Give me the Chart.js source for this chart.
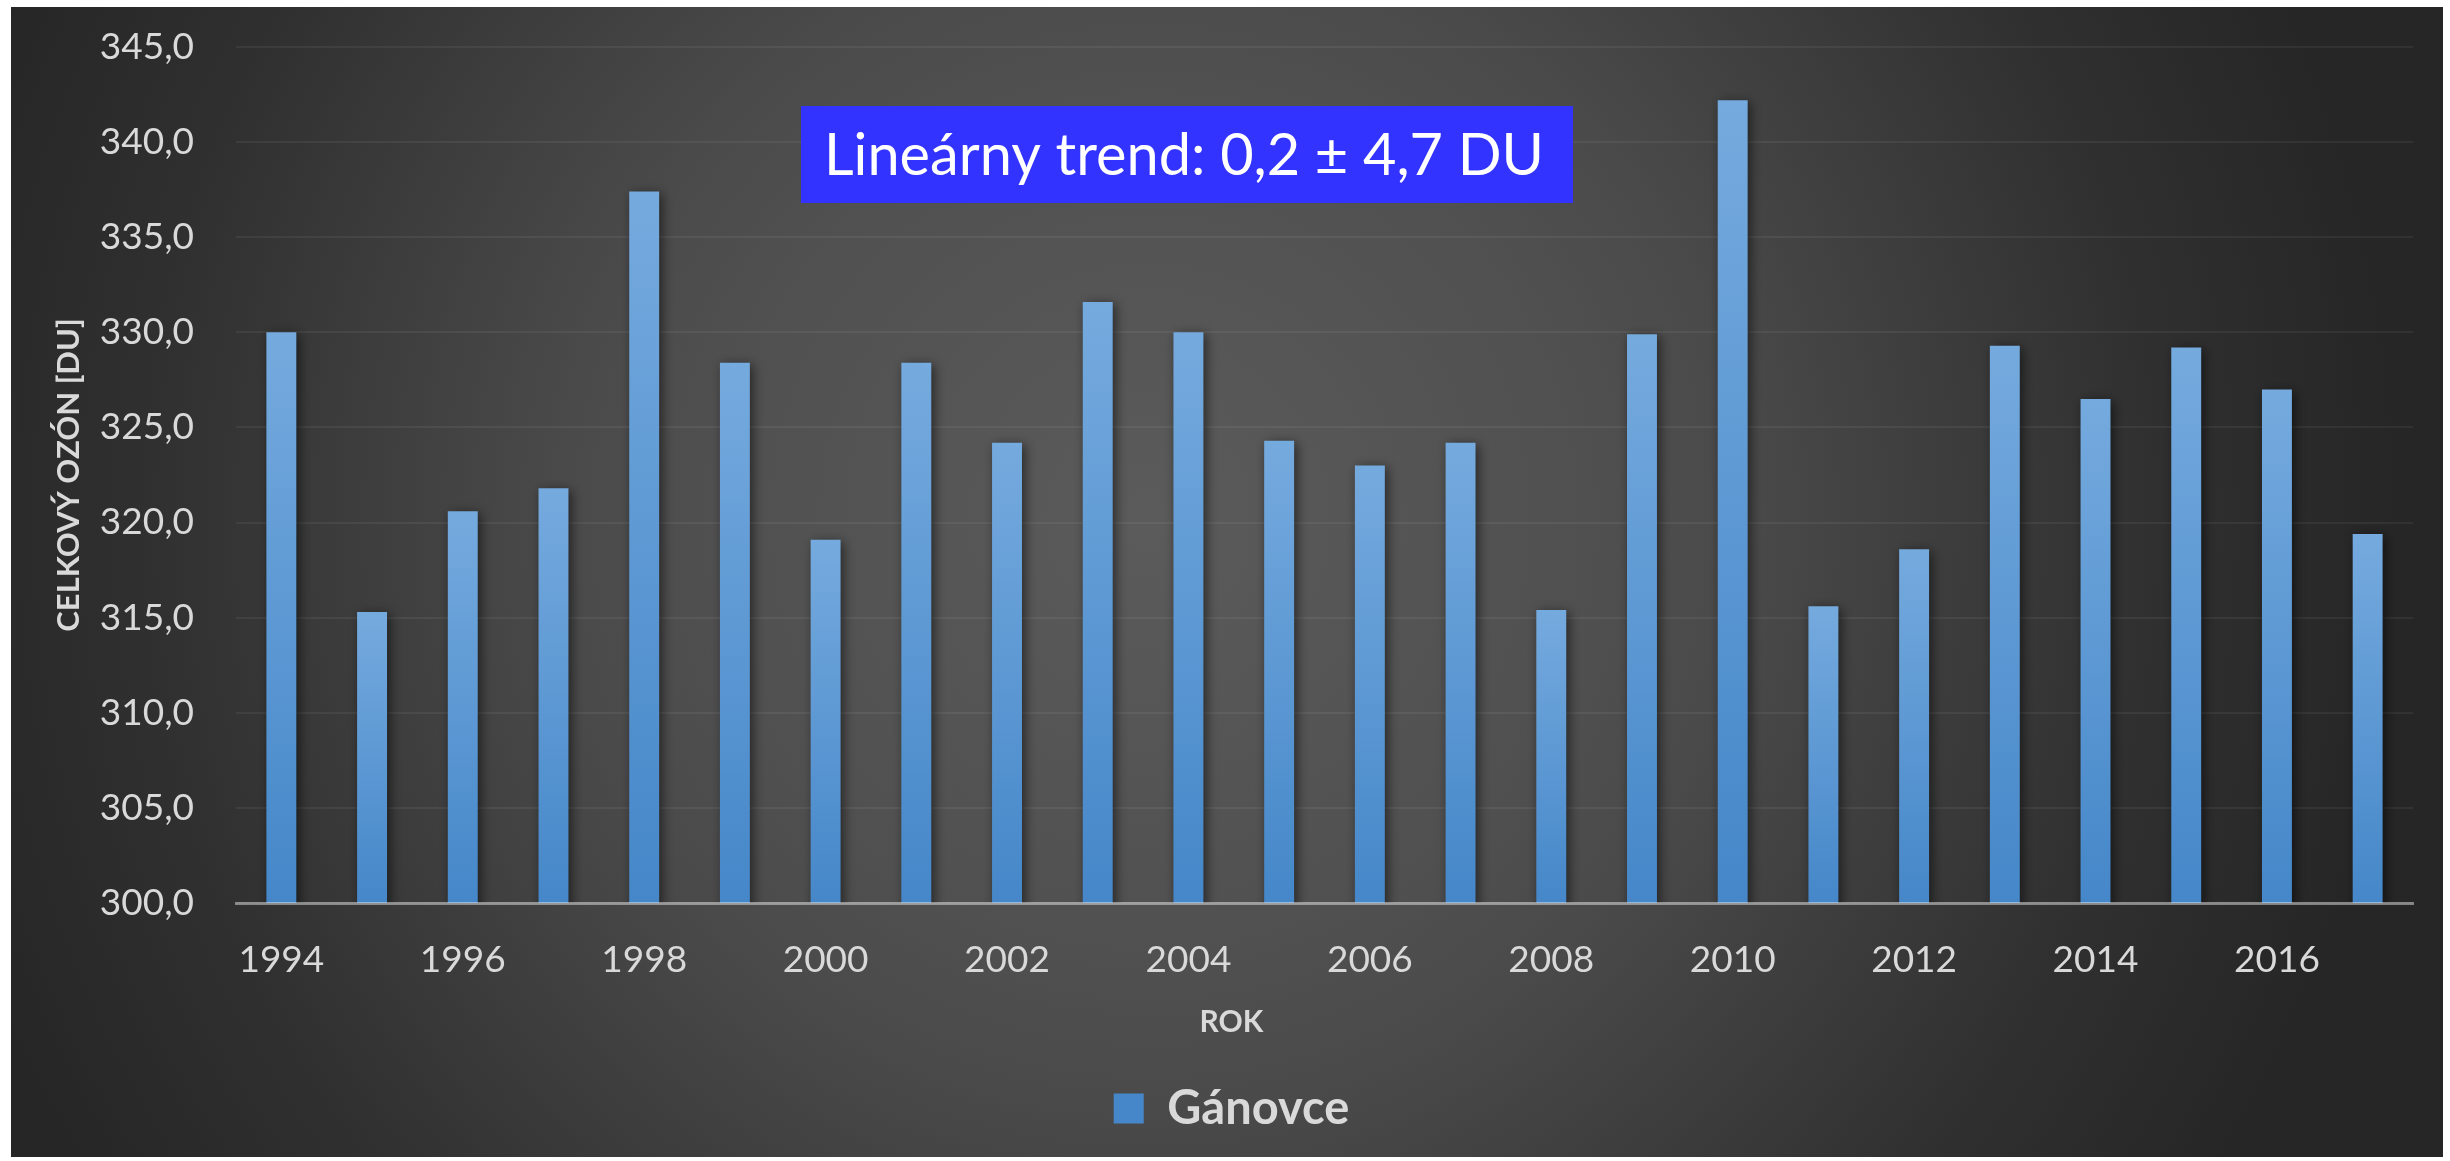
<!DOCTYPE html>
<html>
<head>
<meta charset="utf-8">
<script src="https://cdn.jsdelivr.net/npm/chart.js@4.4.1/dist/chart.umd.min.js"></script>
<style>
  html, body { margin: 0; padding: 0; background: #ffffff; }
  canvas { display: block; }
</style>
</head>
<body>
<canvas id="c" width="2450" height="1161"></canvas>
<script>
// ---- data ----
const years = ['1994','1995','1996','1997','1998','1999','2000','2001','2002','2003','2004','2005',
               '2006','2007','2008','2009','2010','2011','2012','2013','2014','2015','2016','2017'];
const ozoneGanovce = [330.0, 315.3, 320.6, 321.8, 337.4, 328.4, 319.1, 328.4, 324.2, 331.6, 330.0, 324.3,
                      323.0, 324.2, 315.4, 329.9, 342.2, 315.6, 318.6, 329.3, 326.5, 329.2, 327.0, 319.4];
const seriesName = 'Gánovce';
const yMin = 300, yMax = 345, yStep = 5;
const yTitle = 'CELKOVÝ OZÓN [DU]';
const xTitle = 'ROK';
const trendText = 'Lineárny trend: 0,2 ± 4,7 DU';

const FONT = 'Lato, "Open Sans", sans-serif';
const TEXT_COLOR = '#d9d9d9';

const bgPlugin = {
  id: 'bgPlugin',
  beforeDraw(chart) {
    const c = chart.ctx;
    c.save();
    c.fillStyle = '#ffffff';
    c.fillRect(0, 0, chart.width, chart.height);
    const x0 = 11, y0 = 7, x1 = chart.width - 7, y1 = chart.height - 4;
    const g = c.createRadialGradient(1150, 520, 0, 1150, 520, 1250);
    g.addColorStop(0, '#5b5b5b');
    g.addColorStop(0.35, '#505050');
    g.addColorStop(0.47, '#4a4a4a');
    g.addColorStop(0.8, '#303030');
    g.addColorStop(1, '#262626');
    c.fillStyle = g;
    c.fillRect(x0, y0, x1 - x0, y1 - y0);
    c.restore();
  }
};

const shadowPlugin = {
  id: 'shadowPlugin',
  beforeDatasetsDraw(chart) {
    const c = chart.ctx;
    c.save();
    c.shadowColor = 'rgba(0,0,0,0.55)';
    c.shadowBlur = 12;
    c.shadowOffsetX = 3;
    c.shadowOffsetY = 2;
  },
  afterDatasetsDraw(chart) {
    chart.ctx.restore();
  }
};

const textPlugin = {
  id: 'textPlugin',
  afterDraw(chart) {
    const c = chart.ctx;
    // x axis title, centred under the legend
    const lg = chart.legend;
    c.save();
    c.fillStyle = TEXT_COLOR;
    c.font = 'bold 30px ' + FONT;
    c.textAlign = 'center';
    c.textBaseline = 'middle';
    c.fillText(xTitle, (lg.left + lg.right) / 2, 1022);
    c.restore();

    // trend annotation box
    const bx = 801, by = 106, bw = 772, bh = 97;
    c.save();
    c.fillStyle = '#3333ff';
    c.fillRect(bx, by, bw, bh);
    c.font = '58px ' + FONT;
    const w = c.measureText(trendText).width;
    const targetW = 720;
    const s = targetW / w;
    c.translate(bx + 23, 175);
    c.scale(s, 1);
    c.fillStyle = '#ffffff';
    c.textAlign = 'left';
    c.textBaseline = 'alphabetic';
    c.fillText(trendText, 0, 0);
    c.restore();
  }
};

function barGradient(ctx) {
  const chart = ctx.chart;
  if (ctx.type !== 'data' || !chart.chartArea || !chart.scales.y) return '#5b9bd5';
  const y = chart.scales.y;
  const top = y.getPixelForValue(ctx.raw);
  const bottom = y.getPixelForValue(y.min);
  const g = chart.ctx.createLinearGradient(0, top, 0, bottom);
  g.addColorStop(0, '#75aade');
  g.addColorStop(1, '#4587c9');
  return g;
}

new Chart(document.getElementById('c'), {
  type: 'bar',
  data: {
    labels: years,
    datasets: [{
      label: seriesName,
      data: ozoneGanovce,
      backgroundColor: barGradient,
      borderWidth: 0,
      barPercentage: 0.33,
      categoryPercentage: 1.0
    }]
  },
  plugins: [bgPlugin, shadowPlugin, textPlugin],
  options: {
    responsive: false,
    devicePixelRatio: 1,
    animation: false,
    layout: { padding: { left: 50, right: 37, top: 47, bottom: 19 } },
    plugins: {
      tooltip: { enabled: false },
      legend: {
        position: 'bottom',
        labels: {
          color: TEXT_COLOR,
          font: { family: FONT, size: 47, weight: 'bold' },
          boxWidth: 30,
          boxHeight: 30,
          padding: 20
        }
      }
    },
    scales: {
      x: {
        grid: { display: false, drawTicks: false },
        border: { display: true, color: 'rgba(255,255,255,0.42)', width: 3, z: 1 },
        ticks: {
          color: TEXT_COLOR,
          font: { family: FONT, size: 37 },
          padding: 35,
          autoSkip: false,
          maxRotation: 0,
          callback: function (value, index) {
            return index % 2 === 0 ? this.getLabelForValue(value) : '';
          }
        },
        afterFit(scale) { scale.height = 162; }
      },
      y: {
        min: yMin,
        max: yMax,
        grid: { color: 'rgba(255,255,255,0.06)', lineWidth: 2, drawTicks: false },
        border: { display: false },
        ticks: {
          stepSize: yStep,
          color: TEXT_COLOR,
          font: { family: FONT, size: 37 },
          padding: 42,
          callback: (v) => v.toFixed(1).replace('.', ',')
        },
        title: {
          display: true,
          text: yTitle,
          color: TEXT_COLOR,
          font: { family: FONT, size: 31, weight: 'bold' },
          padding: { top: 0, bottom: 0 }
        },
        afterFit(scale) {
          scale.width = 186;
          scale.paddingTop = 20;
          scale.paddingBottom = 20;
        }
      }
    }
  }
});
</script>
</body>
</html>
